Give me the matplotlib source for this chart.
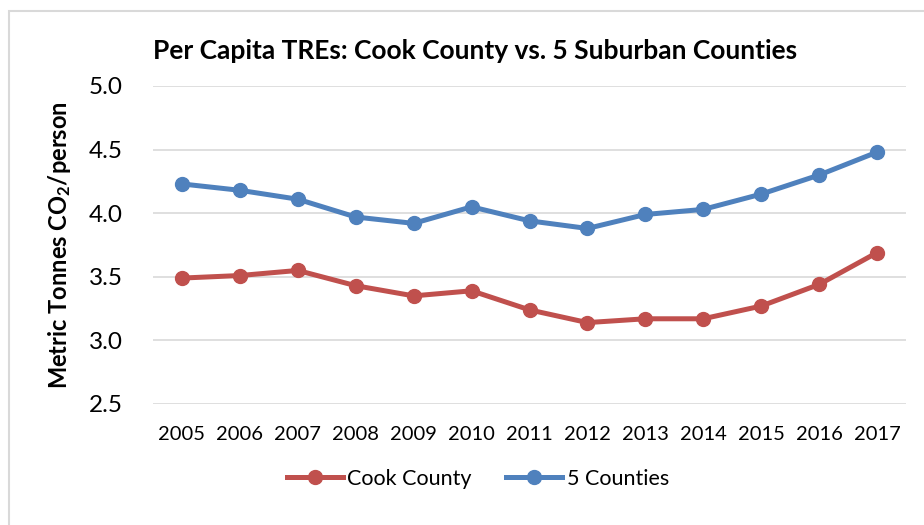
import matplotlib
matplotlib.use("Agg")
import matplotlib.pyplot as plt
from matplotlib.patches import Rectangle

# data
years = ["2005", "2006", "2007", "2008", "2009", "2010", "2011",
         "2012", "2013", "2014", "2015", "2016", "2017"]
cook = [3.49, 3.51, 3.55, 3.43, 3.35, 3.39, 3.24, 3.14, 3.17, 3.17, 3.27, 3.44, 3.69]
five = [4.23, 4.18, 4.11, 3.97, 3.92, 4.05, 3.94, 3.88, 3.99, 4.03, 4.15, 4.30, 4.48]
yticks = [2.5, 3.0, 3.5, 4.0, 4.5, 5.0]

red = "#C0504D"
blue = "#4F81BD"
grid = "#D9D9D9"

plt.rcParams["font.family"] = ["Lato", "DejaVu Sans"]
plt.rcParams["mathtext.fontset"] = "custom"
plt.rcParams["mathtext.rm"] = "Lato"
plt.rcParams["mathtext.bf"] = "Lato:bold"

fig = plt.figure(figsize=(9.24, 5.25), dpi=100)
ax = fig.add_axes([153 / 924, 1 - 404 / 525, 753 / 924, 318 / 525])

x = list(range(len(years)))
ax.plot(x, cook, color=red, lw=3.6, marker="o", ms=10, label="Cook County", zorder=3)
ax.plot(x, five, color=blue, lw=3.6, marker="o", ms=10, label="5 Counties", zorder=3)

ax.set_xlim(-0.5, len(years) - 0.5)
ax.set_ylim(2.5, 5.0)
ax.set_yticks(yticks)
ax.set_yticklabels(["%.1f" % v for v in yticks])
ax.set_xticks(x)
ax.set_xticklabels(years)
ax.yaxis.grid(True, color=grid, lw=1.2)
ax.set_axisbelow(True)
for s in ax.spines.values():
    s.set_visible(False)
ax.tick_params(axis="y", length=0, labelsize=17.5, pad=22)
ax.tick_params(axis="x", length=0, labelsize=14.5, pad=16)

# titles
fig.text(475 / 924, 1 - 59 / 525, "Per Capita TREs: Cook County vs. 5 Suburban Counties",
         ha="center", va="baseline", fontsize=19, fontweight="bold")
fig.text(60 / 924, 1 - 245 / 525, r"Metric Tonnes CO$\mathbf{_2}$/person",
         rotation=90, ha="center", va="center", fontsize=17, fontweight="bold")

# legend at bottom
fig.legend(loc="center", bbox_to_anchor=(478 / 924, 1 - 479 / 525), ncol=2,
           frameon=False, fontsize=15.5, handlelength=2.6, handletextpad=0.2,
           columnspacing=1.6)

# chart border
fig.add_artist(Rectangle((9 / 924, -0.1), 2, (1 - 11 / 525) + 0.1,
                         transform=fig.transFigure, fill=False, ec=grid, lw=1.5))

fig.savefig("out.png", dpi=100)
